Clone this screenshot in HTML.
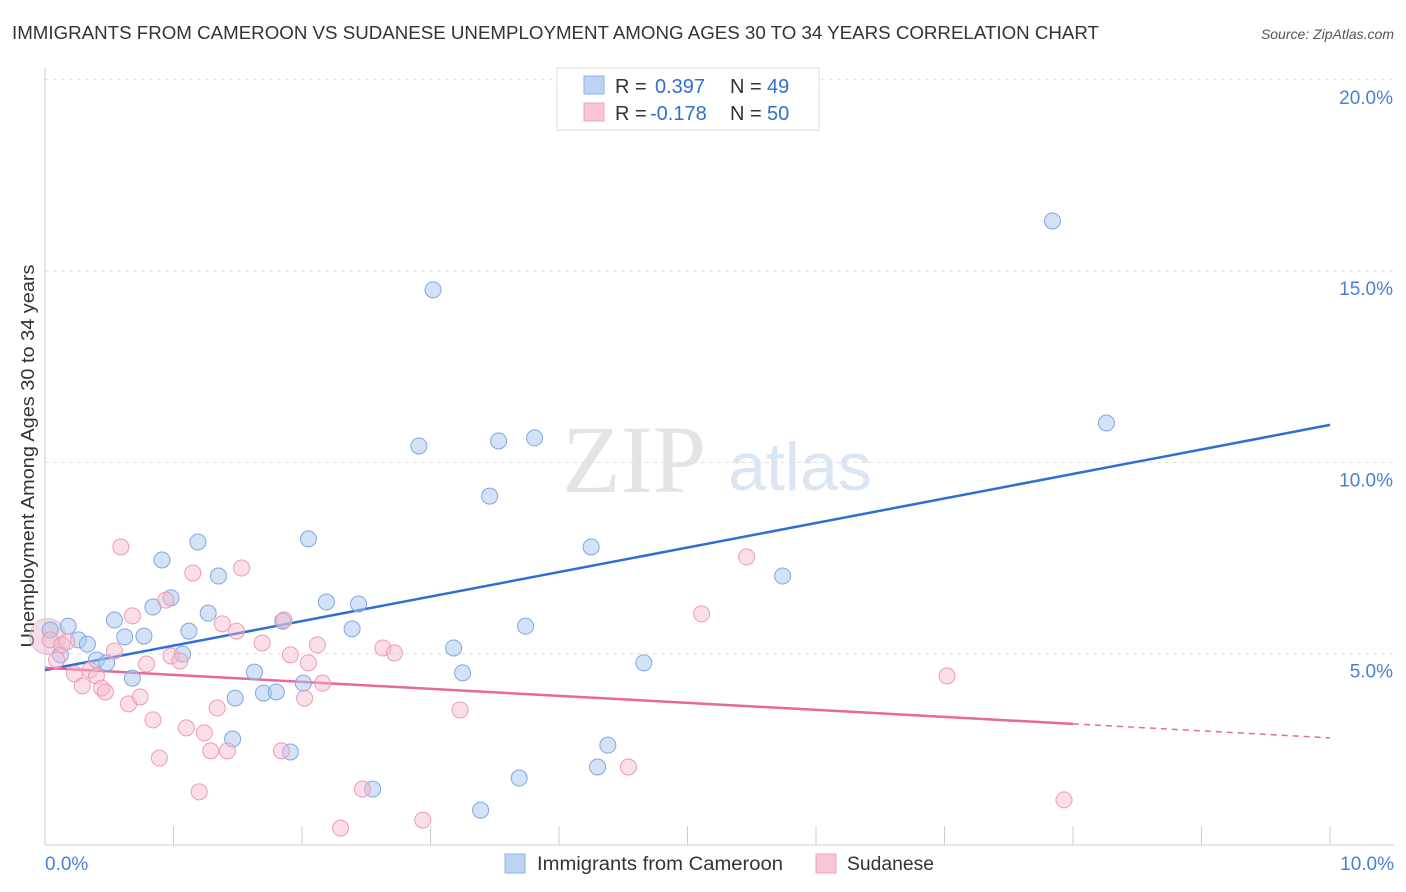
<!DOCTYPE html>
<html><head><meta charset="utf-8"><style>
body{margin:0;background:#fff;font-family:"Liberation Sans",sans-serif;}
#wrap{position:relative;width:1406px;height:892px;overflow:hidden;}
svg{position:absolute;left:0;top:0;}
</style></head><body>
<div id="wrap">
<svg id="chart" width="1406" height="892">
<text x="12" y="39" font-size="18" fill="#333" textLength="1087" lengthAdjust="spacingAndGlyphs">IMMIGRANTS FROM CAMEROON VS SUDANESE UNEMPLOYMENT AMONG AGES 30 TO 34 YEARS CORRELATION CHART</text>
<text x="1394" y="39" font-size="14" fill="#555" font-style="italic" text-anchor="end">Source: ZipAtlas.com</text>
<text x="634" y="492" font-size="96" fill="#e4e4e4" font-family="Liberation Serif" text-anchor="middle">ZIP</text>
<text x="800" y="490" font-size="68" fill="#dbe6f5" text-anchor="middle">atlas</text>
<text transform="translate(34,456) rotate(-90)" font-size="18" fill="#333" text-anchor="middle" textLength="383" lengthAdjust="spacingAndGlyphs">Unemployment Among Ages 30 to 34 years</text>
<g id="grid"></g><g id="ticks"></g><g id="lines"></g><g id="pts"></g>
<g>
<rect x="557" y="68" width="262" height="62" fill="#fff" stroke="#ddd"/>
<rect x="584" y="76" width="20" height="18" fill="#bcd3f3" stroke="#8fb1e3"/>
<rect x="584" y="103" width="20" height="18" fill="#f8c6d6" stroke="#efa3bd"/>
<text x="615" y="93" font-size="20" fill="#333">R = <tspan fill="#2f6fd1" x="655">0.397</tspan><tspan x="730" fill="#333">N =</tspan><tspan x="767" fill="#2f6fd1">49</tspan></text>
<text x="615" y="120" font-size="20" fill="#333">R = <tspan fill="#2f6fd1" x="650">-0.178</tspan><tspan x="730" fill="#333">N =</tspan><tspan x="767" fill="#2f6fd1">50</tspan></text>
</g>
<g>
<rect x="505" y="854" width="20" height="19" fill="#bcd3f3" stroke="#8fb1e3"/>
<text x="537" y="870" font-size="19" fill="#333" textLength="246" lengthAdjust="spacingAndGlyphs">Immigrants from Cameroon</text>
<rect x="816" y="854" width="20" height="19" fill="#f8c6d6" stroke="#efa3bd"/>
<text x="847" y="870" font-size="19" fill="#333" textLength="87" lengthAdjust="spacingAndGlyphs">Sudanese</text>
</g>
</svg>
</div>
<script>
const blueX=[.04,.12,.18,.26,.33,.40,.48,.54,.62,.68,.77,.84,.91,.98,1.07,1.12,1.19,1.27,1.35,1.46,1.48,1.63,1.70,1.80,1.85,1.91,2.01,2.05,2.19,2.39,2.44,2.55,2.91,3.02,3.18,3.25,3.39,3.46,3.53,3.69,3.74,3.81,4.25,4.30,4.38,4.66,5.74,7.84,8.26];
const blueY=[5.62,4.97,5.72,5.36,5.25,4.84,4.76,5.88,5.44,4.36,5.46,6.22,7.45,6.46,4.99,5.59,7.92,6.06,7.03,2.77,3.84,4.52,3.97,4.00,5.85,2.43,4.23,8.00,6.35,5.65,6.30,1.46,10.43,14.51,5.15,4.50,0.91,9.12,10.56,1.75,5.72,10.64,7.79,2.04,2.61,4.76,7.03,16.31,11.03];
const pinkX=[.04,.09,.13,.17,.23,.29,.35,.40,.44,.47,.54,.59,.65,.68,.74,.79,.84,.89,.94,.98,1.05,1.10,1.15,1.20,1.24,1.29,1.34,1.38,1.42,1.49,1.53,1.69,1.84,1.86,1.91,2.02,2.05,2.12,2.16,2.30,2.47,2.63,2.72,2.94,3.23,4.54,5.11,5.46,7.02,7.93];
const pinkY=[5.36,4.84,5.23,5.31,4.47,4.16,4.57,4.42,4.10,4.00,5.07,7.79,3.69,5.99,3.87,4.73,3.27,2.27,6.40,4.94,4.81,3.06,7.11,1.39,2.93,2.46,3.58,5.78,2.46,5.59,7.24,5.28,2.46,5.88,4.97,3.84,4.76,5.23,4.23,0.44,1.46,5.15,5.02,0.65,3.53,2.04,6.04,7.53,4.42,1.18];
const blueTrend=[4.57,10.98];
const pinkTrend=[4.63,2.80];
const pinkSolidEnd=8.0;
const yTicks=[5,10,15,20];
const yTickLabels=["5.0%","10.0%","15.0%","20.0%"];
const xTickLabels=["0.0%","10.0%"];
const X=v=>45+v*128.5, Y=v=>845-v*38.26;
const NS="http://www.w3.org/2000/svg";
function mk(tag,attrs,parent){const e=document.createElementNS(NS,tag);for(const k in attrs)e.setAttribute(k,attrs[k]);document.getElementById(parent).appendChild(e);return e;}
yTicks.forEach((t,i)=>{
  const l=mk('line',{x1:45,x2:1394,y1:Y(t),y2:Y(t),stroke:'#ddd','stroke-dasharray':'4,4'},'grid');
  
  
  const tx=mk('text',{x:1393,y:Y(t)+24,'font-size':19,fill:'#4a7fd6','text-anchor':'end'},'ticks');
  tx.textContent=yTickLabels[i];
  
  
});
const ax=mk('line',{x1:45,x2:45,y1:68,y2:845,stroke:'#ccc'},'grid');


const bx=mk('line',{x1:45,x2:1394,y1:845,y2:845,stroke:'#ccc'},'grid');


for(let i=0;i<=10;i++){
  const t=mk('line',{x1:X(i),x2:X(i),y1:826,y2:845,stroke:'#ccc'},'ticks');
  
  
}
[[0,'start',45],[10,'end',1394]].forEach((d,i)=>{
  const tx=mk('text',{x:d[2],y:870,'font-size':19,fill:'#4a7fd6','text-anchor':d[1]},'ticks');
  tx.textContent=xTickLabels[i];
  
  
});
const big=mk('circle',{cx:X(0.02),cy:Y(5.45),r:18,fill:'rgba(230,180,200,0.45)',stroke:'rgba(200,170,200,0.6)'},'pts');


blueX.forEach((x,i)=>{
  const c=mk('circle',{cx:X(x),cy:Y(blueY[i]),r:8,fill:'rgba(169,198,239,0.5)',stroke:'#7ea8e2','stroke-width':1},'pts');
  
  
});
pinkX.forEach((x,i)=>{
  const c=mk('circle',{cx:X(x),cy:Y(pinkY[i]),r:8,fill:'rgba(245,184,204,0.45)',stroke:'#ee9ab7','stroke-width':1},'pts');
  
  
});
const bl=mk('line',{x1:X(0),y1:Y(blueTrend[0]),x2:X(10),y2:Y(blueTrend[1]),stroke:'#2f6fd1','stroke-width':2.5},'lines');


const py=x=>pinkTrend[0]+(pinkTrend[1]-pinkTrend[0])*x/10;
const pl=mk('line',{x1:X(0),y1:Y(py(0)),x2:X(pinkSolidEnd),y2:Y(py(pinkSolidEnd)),stroke:'#e8689a','stroke-width':2.5},'lines');


const pd=mk('line',{x1:X(pinkSolidEnd),y1:Y(py(pinkSolidEnd)),x2:X(10),y2:Y(py(10)),stroke:'#e8689a','stroke-width':1.5,'stroke-dasharray':'6,5'},'lines');


</script>
</body></html>
